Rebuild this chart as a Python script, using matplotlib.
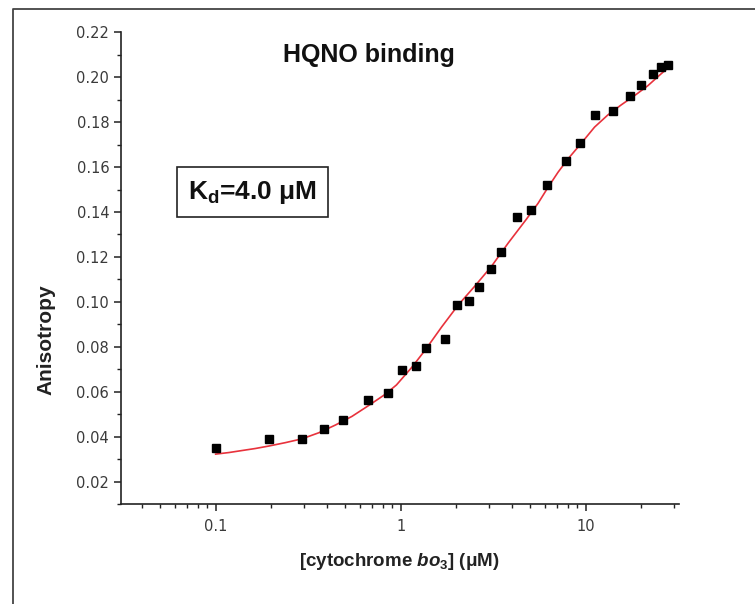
import matplotlib
matplotlib.use("Agg")
import matplotlib.pyplot as plt
from matplotlib.lines import Line2D
from matplotlib.ticker import LogLocator, FixedLocator, MultipleLocator, NullFormatter

plt.rcParams['font.family'] = ['Liberation Sans', 'DejaVu Sans']
plt.rcParams['mathtext.fontset'] = 'custom'
plt.rcParams['mathtext.rm'] = 'Liberation Sans:bold'
plt.rcParams['mathtext.it'] = 'Liberation Sans:italic:bold'
plt.rcParams['mathtext.bf'] = 'Liberation Sans:bold'

# measured points (cytochrome bo3 concentration in uM, anisotropy)
conc = [0.1, 0.194, 0.293, 0.385, 0.486, 0.663, 0.85, 1.02, 1.21, 1.37,
        1.74, 2.03, 2.35, 2.66, 3.07, 3.48, 4.28, 5.05, 6.22, 7.84,
        9.28, 11.3, 14.0, 17.3, 20.0, 23.1, 25.6, 27.9]
aniso = [0.0351, 0.0390, 0.0389, 0.0435, 0.0475, 0.0562, 0.0593, 0.0698, 0.0715, 0.0794,
         0.0834, 0.0985, 0.1004, 0.1068, 0.1147, 0.1224, 0.1379, 0.1411, 0.1519, 0.1629,
         0.1707, 0.1833, 0.1851, 0.1918, 0.1965, 0.2013, 0.2044, 0.2053]

# fitted curve
fit_conc = [0.1, 0.118, 0.139, 0.164, 0.194, 0.238, 0.293, 0.361, 0.443, 0.546,
            0.671, 0.825, 0.95, 1.149, 1.355, 1.667, 2.05, 2.52, 3.10, 3.82,
            4.79, 5.54, 6.27, 7.10, 8.03, 9.48, 11.19, 13.2, 15.6, 18.4,
            21.7, 25.6, 28.4]
fit_aniso = [0.0322, 0.0329, 0.0338, 0.0347, 0.0358, 0.0373, 0.0390, 0.0417, 0.0451, 0.0490,
             0.0538, 0.0588, 0.0630, 0.0708, 0.0784, 0.0888, 0.0986, 0.1070, 0.1158, 0.1262,
             0.1368, 0.1439, 0.1510, 0.1577, 0.1636, 0.1706, 0.1778, 0.1832, 0.1877, 0.1918,
             0.1962, 0.2015, 0.2047]

y_ticks = [0.02, 0.04, 0.06, 0.08, 0.10, 0.12, 0.14, 0.16, 0.18, 0.20, 0.22]
y_labels = ["0.02", "0.04", "0.06", "0.08", "0.10", "0.12", "0.14", "0.16", "0.18", "0.20", "0.22"]
x_ticks = [0.1, 1, 10]
x_labels = ["0.1", "1", "10"]

fig = plt.figure(figsize=(7.55, 6.04), dpi=100)
ax = fig.add_axes([0.1603, 0.1656, 0.739, 0.7809])

ax.plot(fit_conc, fit_aniso, color='#e8323c', lw=1.2, zorder=2)
ax.plot(conc, aniso, 's', color='black', ms=6.3, zorder=3)

ax.set_xscale('log')
ax.set_xlim(0.0308, 32)
ax.set_ylim(0.01, 0.22)

ax.xaxis.set_major_locator(FixedLocator(x_ticks))
ax.set_xticklabels(x_labels)
ax.xaxis.set_minor_locator(LogLocator(base=10, subs=[2, 3, 4, 5, 6, 7, 8, 9]))
ax.xaxis.set_minor_formatter(NullFormatter())
ax.set_yticks(y_ticks)
ax.set_yticklabels(y_labels)
ax.yaxis.set_minor_locator(MultipleLocator(0.01))

for lab in ax.get_xticklabels() + ax.get_yticklabels():
    lab.set_family('DejaVu Sans')
    lab.set_fontsize(10.5)
    lab.set_color('#3a3a3a')

ax.tick_params(which='major', direction='out', length=5, width=1.1, color='#222222')
ax.tick_params(which='minor', direction='out', length=3, width=1.0, color='#222222')
ax.tick_params(axis='x', which='major', pad=6)

for s in ['top', 'right']:
    ax.spines[s].set_visible(False)
for s in ['left', 'bottom']:
    ax.spines[s].set_linewidth(1.2)
    ax.spines[s].set_color('#222222')

# labels and annotations
fig.text(0.061, 0.437, "Anisotropy", rotation=90, ha='center', va='center',
         fontsize=15, fontweight='bold', color='#222222')
fig.text(0.529, 0.071, r"[cytochrome $bo_{3}$] (μM)", ha='center', va='center',
         fontsize=13.5, fontweight='bold', color='#222222')
fig.text(0.4887, 0.909, "HQNO binding", ha='center', va='center',
         fontsize=18, fontweight='bold', color='#111111')
fig.text(0.335, 0.682, r"K$_{\mathrm{d}}$=4.0 μM", ha='center', va='center',
         fontsize=19, fontweight='bold', color='#111111',
         bbox=dict(boxstyle='square,pad=0.42', fc='white', ec='#222222', lw=1.2))

# outer frame left over from the original page
fig.add_artist(Line2D([13 / 755, 13 / 755, 1.0], [0.0, 1 - 9 / 604, 1 - 9 / 604],
                      transform=fig.transFigure, color='#444444', lw=1.3))

fig.savefig("out.png", dpi=100)
